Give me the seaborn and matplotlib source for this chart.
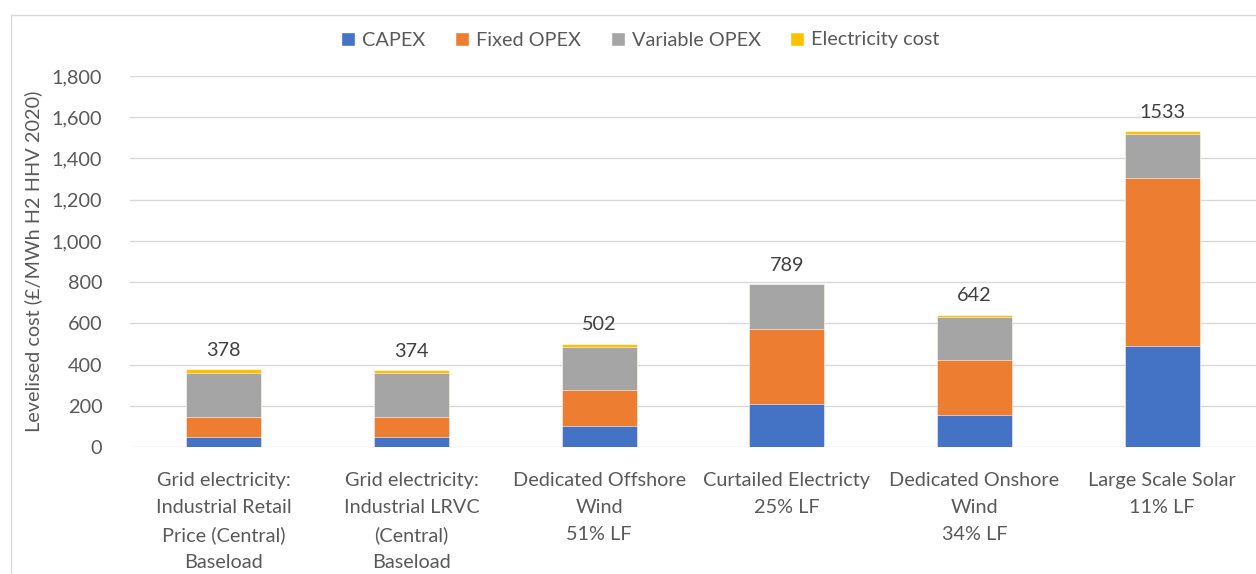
import numpy as np
import pandas as pd
import seaborn as sns
import matplotlib.pyplot as plt
from matplotlib.patches import Rectangle, Patch

# ----- Data ----- #
categories = [
    "Grid electricity:\nIndustrial Retail\nPrice (Central)\nBaseload",
    "Grid electricity:\nIndustrial LRVC\n(Central)\nBaseload",
    "Dedicated Offshore\nWind\n51% LF",
    "Curtailed Electricty\n25% LF",
    "Dedicated Onshore\nWind\n34% LF",
    "Large Scale Solar\n11% LF",
]
capex = [50, 50, 100, 210, 153, 489]
fixed_opex = [97, 97, 176, 363, 267, 818]
variable_opex = [210, 210, 210, 216, 210, 210]
electricity_cost = [21, 17, 16, 0, 12, 16]

series_names = ["CAPEX", "Fixed OPEX", "Variable OPEX", "Electricity cost"]
colors = ["#4472C4", "#ED7D31", "#A5A5A5", "#FFC000"]

df = pd.DataFrame({
    "Category": categories,
    "CAPEX": capex,
    "Fixed OPEX": fixed_opex,
    "Variable OPEX": variable_opex,
    "Electricity cost": electricity_cost,
})
cum = df[series_names].cumsum(axis=1)
totals = cum["Electricity cost"]

sns.set_style("white")
plt.rcParams["font.family"] = ["Lato", "DejaVu Sans"]
txt = "#595959"
fs = 14.3

fig = plt.figure(figsize=(12.56, 5.74), dpi=100)
ax = fig.add_axes([130 / 1256, 1 - 447 / 574, 1126 / 1256, 371 / 574])

# ----- Stacked bars: draw cumulative layers from the top down ----- #
for name, color in reversed(list(zip(series_names, colors))):
    sns.barplot(data=cum.assign(Category=df["Category"]), x="Category", y=name,
                color=color, width=0.4, saturation=1, ax=ax,
                edgecolor="white", linewidth=0.4)

for i, t in enumerate(totals):
    ax.text(i, t + 50, f"{t:.0f}", ha="center", va="bottom", fontsize=fs, color="#404040")

ax.set_ylim(0, 1800)
ax.set_yticks(range(0, 1801, 200))
ax.set_yticklabels([f"{v:,}" for v in range(0, 1801, 200)])
ax.yaxis.grid(True, color="#D9D9D9", linewidth=1)
ax.set_axisbelow(True)
for s in ax.spines.values():
    s.set_visible(False)
ax.tick_params(axis="y", length=0, pad=20, labelsize=fs, labelcolor=txt)
ax.tick_params(axis="x", length=0, pad=18, labelsize=fs, labelcolor=txt)
ax.set_xticks(range(len(categories)))
ax.set_xticklabels(categories, linespacing=1.7)
ax.set_xlabel("")
ax.set_ylabel("Levelised cost (£/MWh H2 HHV 2020)", fontsize=fs, color=txt)
ax.yaxis.set_label_coords(-88 / 1126, 0.5)

handles = [Patch(facecolor=c, label=n) for n, c in zip(series_names, colors)]
fig.legend(handles=handles, loc="center", bbox_to_anchor=(0.51, 1 - 40 / 574), ncol=4,
           frameon=False, fontsize=fs, labelcolor=txt, handlelength=0.7, handleheight=0.7,
           handletextpad=0.35, columnspacing=1.5)

# chart area border (cropped)
fig.patches.append(Rectangle((11 / 1256, -0.1), 1.2, 1.1 - 15 / 574, transform=fig.transFigure,
                             fill=False, edgecolor="#D9D9D9", linewidth=1))

fig.savefig("out.png", dpi=100)
